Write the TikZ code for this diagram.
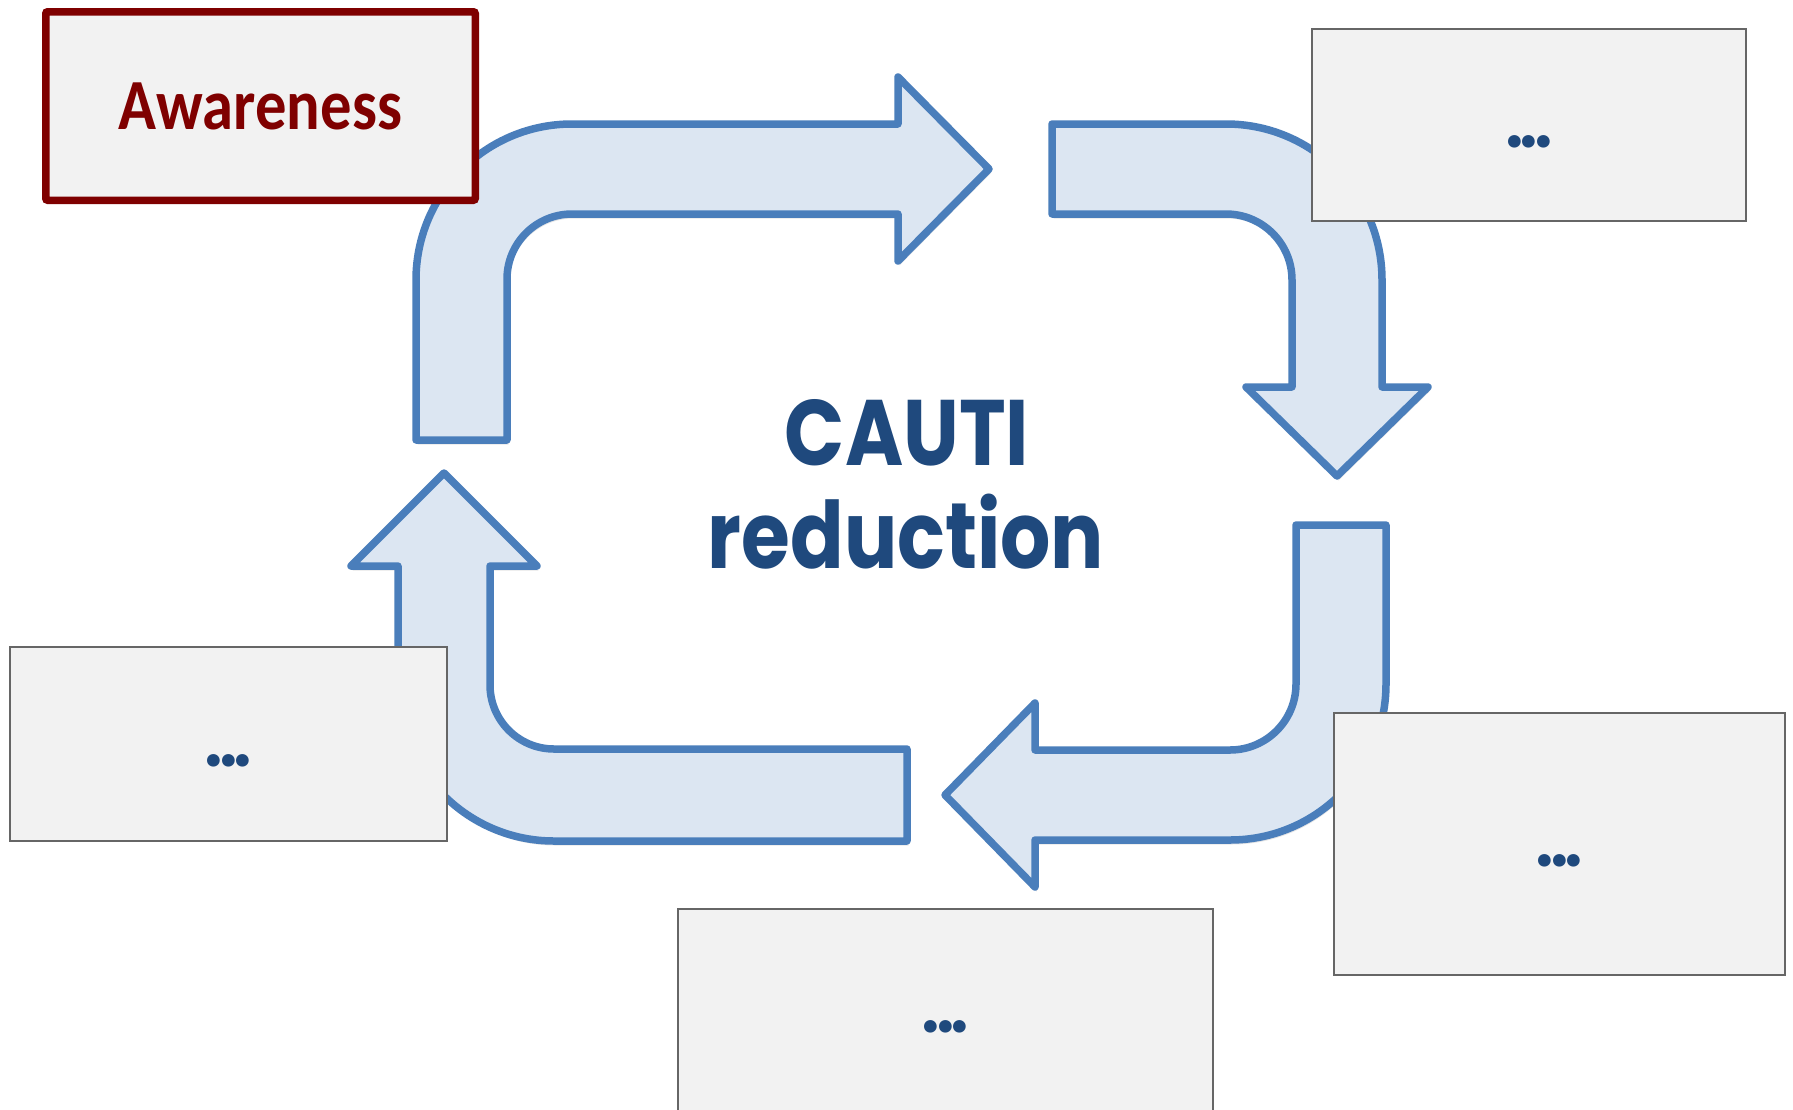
\documentclass[tikz,border=0pt]{standalone}
\usepackage{fontspec}
\newfontfamily\calib{Carlito}
\newfontfamily\geo{Poppins}
\usetikzlibrary{shadows}
\definecolor{arrowline}{HTML}{4A7EBB}
\definecolor{arrowfill}{HTML}{DCE6F2}
\definecolor{boxfill}{HTML}{F2F2F2}
\definecolor{boxline}{HTML}{666666}
\definecolor{darkred}{HTML}{7F0000}
\definecolor{navy}{HTML}{1F497D}
\newcommand{\tightdots}{.\kern-8.4pt.\kern-8.4pt.}
\tikzset{
  cyclearrow/.style={draw=arrowline, fill=arrowfill, line width=7.5pt, line join=round,
    drop shadow={opacity=0.2, shadow xshift=1.5pt, shadow yshift=-4.5pt}},
  greybox/.style={draw=boxline, fill=boxfill, line width=2pt, inner sep=0pt,
    font=\calib\bfseries\fontsize{85}{95}\selectfont, text=navy,
    text height=44pt, text depth=0pt},
  awarebox/.style={draw=darkred, fill=boxfill, line width=7.5pt, rounded corners=2pt, inner sep=0pt,
    font=\calib\bfseries\fontsize{72}{80}\selectfont, text=darkred},
  bigtext/.style={font=\geo\bfseries\fontsize{93}{103}\selectfont, text=navy, inner sep=0pt}
}
\begin{document}
\begin{tikzpicture}[x=1pt,y=-1pt]
\useasboundingbox (0,0) rectangle (1793,1109);
\clip (0,0) rectangle (1793,1109);
\fill[white] (0,0) rectangle (1793,1109);
% arrows
\path[cyclearrow] (416,440) -- (416,280) arc[start angle=180,end angle=270,radius=156]
  -- (898,124) -- (898,77) -- (989,169) -- (898,261) -- (898,214) -- (572,214)
  arc[start angle=270,end angle=180,radius=65] -- (507,440) -- cycle;
\path[cyclearrow] (1052,124) -- (1226,124) arc[start angle=270,end angle=360,radius=156]
  -- (1382,387) -- (1428,387) -- (1337,476) -- (1246,387) -- (1292,387) -- (1292,280)
  arc[start angle=0,end angle=-90,radius=66] -- (1052,214) -- cycle;
\path[cyclearrow] (1296,525) -- (1386,525) -- (1386,684) arc[start angle=0,end angle=90,radius=156]
  -- (1035,840) -- (1035,887) -- (945,795) -- (1035,703) -- (1035,750) -- (1230,750)
  arc[start angle=90,end angle=0,radius=66] -- cycle;
\path[cyclearrow] (907,749) -- (907,841) -- (554,841) arc[start angle=90,end angle=180,radius=156]
  -- (398,566) -- (351,566) -- (444,473) -- (537,566) -- (490,566) -- (490,685)
  arc[start angle=180,end angle=90,radius=64] -- cycle;
% boxes
\node[awarebox, minimum width=429.5pt, minimum height=188.5pt] (aware) at (260.5,106) {\scalebox{0.87}[1]{Awareness}};
\node[greybox, minimum width=434pt, minimum height=192pt] (tr) at (1529,125) {\tightdots};
\node[greybox, minimum width=437pt, minimum height=194pt] (bl) at (228.5,744) {\tightdots};
\node[greybox, minimum width=451pt, minimum height=262pt] (br) at (1559.5,844) {\tightdots};
\node[greybox, minimum width=535pt, minimum height=202pt] (bot) at (945.5,1010) {\tightdots};
% centre text
\node[bigtext, anchor=base] (cauti) at (907,465) {\scalebox{0.85}[1]{CAUTI}};
\node[bigtext, anchor=base] (reduction) at (906,568) {\scalebox{0.85}[1]{reduction}};
\end{tikzpicture}
\end{document}
